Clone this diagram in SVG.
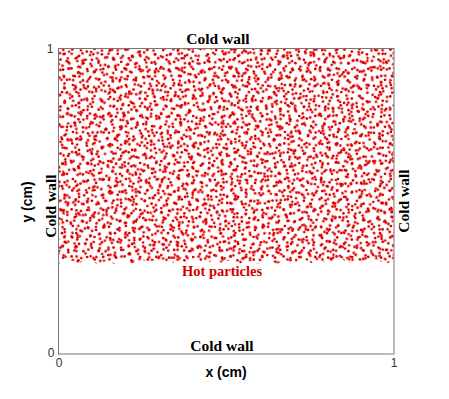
<svg xmlns="http://www.w3.org/2000/svg" width="449" height="399" viewBox="0 0 449 399">
<style>
.dot{fill:#dc0000}
.wall{font-family:"Liberation Serif","Times New Roman",serif;font-weight:bold;font-size:15.5px;fill:#000;text-anchor:middle}
.hot{font-family:"Liberation Serif","Times New Roman",serif;font-weight:bold;font-size:14.5px;fill:#d40000;text-anchor:middle}
.axis{font-family:"Liberation Sans",Arial,sans-serif;font-weight:bold;font-size:14px;fill:#000;text-anchor:middle}
.tick{font-family:"Liberation Sans",Arial,sans-serif;font-size:12px;fill:#333;text-anchor:middle}
</style>
<defs>
<pattern id="pA" patternUnits="userSpaceOnUse" width="53" height="47">
<g class="dot">
<circle cx="4.2" cy="3.1" r="1.35"/><circle cx="11.7" cy="6.8" r="1.35"/><circle cx="19.3" cy="2.4" r="1.35"/><circle cx="26.1" cy="8.9" r="1.35"/><circle cx="33.8" cy="4.6" r="1.35"/><circle cx="41.5" cy="2.0" r="1.35"/><circle cx="48.9" cy="7.3" r="1.35"/><circle cx="7.5" cy="12.6" r="1.35"/><circle cx="15.2" cy="14.9" r="1.35"/><circle cx="22.8" cy="11.3" r="1.35"/><circle cx="30.4" cy="16.2" r="1.35"/><circle cx="38.9" cy="12.8" r="1.35"/><circle cx="45.6" cy="15.7" r="1.35"/><circle cx="2.3" cy="20.1" r="1.35"/><circle cx="10.1" cy="22.7" r="1.35"/><circle cx="18.6" cy="21.4" r="1.35"/><circle cx="25.4" cy="25.3" r="1.35"/><circle cx="34.2" cy="22.0" r="1.35"/><circle cx="41.8" cy="24.6" r="1.35"/><circle cx="50.3" cy="21.9" r="1.35"/><circle cx="6.4" cy="30.5" r="1.35"/><circle cx="14.0" cy="32.8" r="1.35"/><circle cx="21.7" cy="29.2" r="1.35"/><circle cx="29.9" cy="33.4" r="1.35"/><circle cx="37.3" cy="30.1" r="1.35"/><circle cx="46.2" cy="32.2" r="1.35"/><circle cx="3.0" cy="38.8" r="1.35"/><circle cx="11.6" cy="41.3" r="1.35"/><circle cx="19.9" cy="38.0" r="1.35"/><circle cx="27.5" cy="42.6" r="1.35"/><circle cx="35.0" cy="39.4" r="1.35"/><circle cx="43.1" cy="41.9" r="1.35"/><circle cx="50.7" cy="38.5" r="1.35"/><circle cx="23.3" cy="45.0" r="1.35"/><circle cx="9.0" cy="45.2" r="1.35"/>
</g>
</pattern>
<pattern id="pB" patternUnits="userSpaceOnUse" width="61" height="43" patternTransform="rotate(17)">
<g class="dot">
<circle cx="2.6" cy="4.4" r="1.35"/><circle cx="9.8" cy="1.9" r="1.35"/><circle cx="17.1" cy="6.2" r="1.35"/><circle cx="24.5" cy="2.8" r="1.35"/><circle cx="31.2" cy="8.1" r="1.35"/><circle cx="39.6" cy="3.5" r="1.35"/><circle cx="46.3" cy="9.4" r="1.35"/><circle cx="53.8" cy="4.0" r="1.35"/><circle cx="58.9" cy="11.2" r="1.35"/><circle cx="5.3" cy="13.7" r="1.35"/><circle cx="13.4" cy="10.5" r="1.35"/><circle cx="21.0" cy="15.3" r="1.35"/><circle cx="28.7" cy="12.6" r="1.35"/><circle cx="36.1" cy="17.0" r="1.35"/><circle cx="43.9" cy="14.2" r="1.35"/><circle cx="51.2" cy="18.6" r="1.35"/><circle cx="3.1" cy="22.4" r="1.35"/><circle cx="10.7" cy="20.0" r="1.35"/><circle cx="18.2" cy="24.8" r="1.35"/><circle cx="26.0" cy="21.7" r="1.35"/><circle cx="33.5" cy="26.9" r="1.35"/><circle cx="41.3" cy="23.1" r="1.35"/><circle cx="48.6" cy="27.5" r="1.35"/><circle cx="56.4" cy="24.3" r="1.35"/><circle cx="7.9" cy="31.0" r="1.35"/><circle cx="15.6" cy="33.2" r="1.35"/><circle cx="23.4" cy="30.5" r="1.35"/><circle cx="30.8" cy="35.8" r="1.35"/><circle cx="38.4" cy="32.0" r="1.35"/><circle cx="46.0" cy="36.4" r="1.35"/><circle cx="54.2" cy="33.1" r="1.35"/><circle cx="2.0" cy="39.6" r="1.35"/><circle cx="12.1" cy="40.8" r="1.35"/><circle cx="20.5" cy="39.0" r="1.35"/><circle cx="35.4" cy="40.9" r="1.35"/><circle cx="50.0" cy="41.0" r="1.35"/><circle cx="58.2" cy="39.4" r="1.35"/>
</g>
</pattern>
<pattern id="pC" patternUnits="userSpaceOnUse" width="41" height="59" patternTransform="rotate(-34)">
<g class="dot">
<circle cx="3.4" cy="2.5" r="1.35"/><circle cx="12.0" cy="5.8" r="1.35"/><circle cx="20.7" cy="1.8" r="1.35"/><circle cx="29.3" cy="6.9" r="1.35"/><circle cx="37.2" cy="3.2" r="1.35"/><circle cx="7.6" cy="11.4" r="1.35"/><circle cx="16.3" cy="14.0" r="1.35"/><circle cx="24.9" cy="10.2" r="1.35"/><circle cx="33.8" cy="13.5" r="1.35"/><circle cx="2.1" cy="19.6" r="1.35"/><circle cx="11.2" cy="21.9" r="1.35"/><circle cx="20.0" cy="18.7" r="1.35"/><circle cx="28.4" cy="22.5" r="1.35"/><circle cx="37.9" cy="20.3" r="1.35"/><circle cx="6.0" cy="28.8" r="1.35"/><circle cx="15.1" cy="30.4" r="1.35"/><circle cx="23.6" cy="27.3" r="1.35"/><circle cx="32.2" cy="31.6" r="1.35"/><circle cx="39.0" cy="27.9" r="1.35"/><circle cx="2.9" cy="37.1" r="1.35"/><circle cx="10.4" cy="39.5" r="1.35"/><circle cx="19.2" cy="36.4" r="1.35"/><circle cx="27.7" cy="40.2" r="1.35"/><circle cx="36.0" cy="37.8" r="1.35"/><circle cx="6.8" cy="46.3" r="1.35"/><circle cx="15.8" cy="48.4" r="1.35"/><circle cx="24.1" cy="45.0" r="1.35"/><circle cx="32.9" cy="48.9" r="1.35"/><circle cx="3.5" cy="55.0" r="1.35"/><circle cx="11.9" cy="56.7" r="1.35"/><circle cx="20.6" cy="54.1" r="1.35"/><circle cx="29.4" cy="56.2" r="1.35"/><circle cx="37.6" cy="53.5" r="1.35"/><circle cx="39.3" cy="44.6" r="1.35"/>
</g>
</pattern>
<pattern id="pD" patternUnits="userSpaceOnUse" width="67" height="37" patternTransform="rotate(52)">
<g class="dot">
<circle cx="4.0" cy="5.0" r="1.35"/><circle cx="6.2" cy="7.1" r="1.35"/><circle cx="18.5" cy="3.3" r="1.35"/><circle cx="31.7" cy="9.6" r="1.35"/><circle cx="34.0" cy="11.2" r="1.35"/><circle cx="47.2" cy="4.1" r="1.35"/><circle cx="60.8" cy="8.4" r="1.35"/><circle cx="11.3" cy="17.9" r="1.35"/><circle cx="25.6" cy="21.4" r="1.35"/><circle cx="40.4" cy="19.0" r="1.35"/><circle cx="42.1" cy="21.6" r="1.35"/><circle cx="55.9" cy="23.7" r="1.35"/><circle cx="64.2" cy="17.5" r="1.35"/><circle cx="3.6" cy="29.8" r="1.35"/><circle cx="17.4" cy="32.5" r="1.35"/><circle cx="19.6" cy="30.1" r="1.35"/><circle cx="33.1" cy="33.9" r="1.35"/><circle cx="48.8" cy="31.2" r="1.35"/><circle cx="62.0" cy="34.4" r="1.35"/>
</g>
</pattern>
<clipPath id="hotClip">
<polygon points="59,49 393.5,49 393.5,261 385,264 376,259 367,264 358,260 349,263 340,258 331,264 322,261 313,264 304,259 295,263 286,260 277,264 268,258 259,264 250,261 241,264 232,259 223,263 214,260 205,264 196,258 187,264 178,261 169,264 160,259 151,263 142,260 133,264 124,258 115,264 106,261 97,264 88,259 79,263 70,260 59,264"/>
</clipPath>
</defs>
<rect width="449" height="399" fill="#fff"/>
<g id="particles" clip-path="url(#hotClip)">
<rect x="58" y="48" width="336" height="218" fill="url(#pA)"/>
<rect x="58" y="48" width="336" height="218" fill="url(#pB)"/>
<rect x="58" y="48" width="336" height="218" fill="url(#pC)"/>
<rect x="58" y="48" width="336" height="218" fill="url(#pD)"/>
</g>
<g id="axes">
<rect x="58.5" y="48.5" width="335.5" height="305.5" fill="none" stroke="#777" stroke-width="1"/>
<text class="tick" x="50" y="53">1</text>
<text class="tick" x="51" y="357">0</text>
<text class="tick" x="59" y="367">0</text>
<text class="tick" x="394" y="367">1</text>
<text class="axis" x="226" y="377">x (cm)</text>
<text class="axis" transform="translate(32,202) rotate(-90)">y (cm)</text>
</g>
<g id="labels">
<text class="wall" x="218" y="44">Cold wall</text>
<text class="wall" x="222" y="351">Cold wall</text>
<text class="wall" transform="translate(56,206) rotate(-90)">Cold wall</text>
<text class="wall" transform="translate(409,201) rotate(-90)">Cold wall</text>
<text class="hot" x="222" y="276">Hot particles</text>
</g>
</svg>
